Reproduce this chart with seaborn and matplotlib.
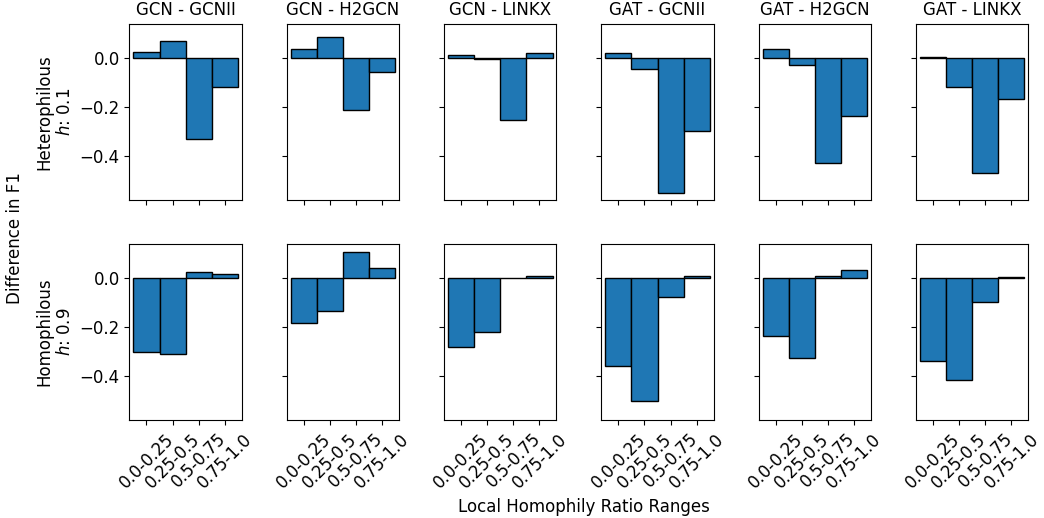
import numpy as np
import pandas as pd
import matplotlib
matplotlib.use("Agg")
import matplotlib.pyplot as plt
import seaborn as sns

# model pairs (columns) and local homophily bins (x categories)
pairs = ["GCN - GCNII", "GCN - H2GCN", "GCN - LINKX",
         "GAT - GCNII", "GAT - H2GCN", "GAT - LINKX"]
ranges = ["0.0-0.25", "0.25-0.5", "0.5-0.75", "0.75-1.0"]
row_labels = ["Heterophilous\n$h$: 0.1", "Homophilous\n$h$: 0.9"]

# difference in F1, one list per pair
het_diff = [
    [0.023, 0.067, -0.331, -0.118],
    [0.037, 0.086, -0.211, -0.056],
    [0.010, -0.004, -0.253, 0.018],
    [0.018, -0.046, -0.551, -0.300],
    [0.035, -0.029, -0.430, -0.239],
    [0.005, -0.118, -0.472, -0.167],
]
hom_diff = [
    [-0.303, -0.309, 0.023, 0.018],
    [-0.182, -0.135, 0.106, 0.039],
    [-0.282, -0.222, -0.001, 0.010],
    [-0.359, -0.501, -0.079, 0.008],
    [-0.238, -0.328, 0.007, 0.033],
    [-0.340, -0.418, -0.099, 0.003],
]

plt.rcParams["font.size"] = 12

fig, axes = plt.subplots(2, 6, figsize=(10.44, 5.18), dpi=100, sharex=True, sharey=True)
fig.subplots_adjust(left=0.124, right=0.985, top=0.954, bottom=0.189, wspace=0.4, hspace=0.25)

for r, vals in enumerate([het_diff, hom_diff]):
    for c, pair in enumerate(pairs):
        ax = axes[r, c]
        df = pd.DataFrame({"range": ranges, "diff": vals[c]})
        sns.barplot(data=df, x="range", y="diff", ax=ax, color="#1f77b4",
                    saturation=1, width=1, edgecolor="black", linewidth=1)
        ax.set_xlabel("")
        ax.set_ylabel("")
        if r == 0:
            ax.set_title(pair, fontsize=12)
        if c == 0:
            ax.set_ylabel(row_labels[r], fontsize=12)
        if r == 1:
            ax.tick_params(axis="x", labelrotation=45)

for ax in axes.flat:
    ax.set_xlim(-0.65, 3.65)
    ax.set_ylim(-0.58, 0.139)
    ax.set_yticks([0.0, -0.2, -0.4])

fig.supylabel("Difference in F1", x=0.006, y=0.54, fontsize=12)
fig.supxlabel("Local Homophily Ratio Ranges", x=0.559, y=0.004, fontsize=12)

fig.savefig("out.png", dpi=100)
